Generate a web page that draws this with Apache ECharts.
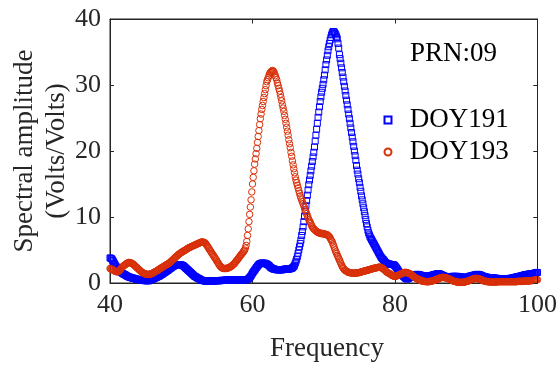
<!DOCTYPE html>
<html>
<head>
<meta charset="utf-8">
<script src="https://cdn.jsdelivr.net/npm/echarts@6/dist/echarts.min.js"></script>
<style>html,body{margin:0;padding:0;background:#fff;}#c{width:557px;height:367px;}</style>
</head>
<body>
<div id="c"></div>
<script>
// Frequency axis sampling (start, step) and tick values
var freqStart = 40;
var freqStep = 0.1;
var xTicks = [40, 60, 80, 100];
var yTicks = [0, 10, 20, 30, 40];
var seriesNames = ['DOY191', 'DOY193'];
var annotation = 'PRN:09';

// DOY191 spectral amplitude, 40.0 .. 100.0 step 0.1
var doy191 = [
3.8,3.75,3.7,3.6,3.4,3.2,3.0,2.8,2.6,2.45,
2.3,2.2,2.05,1.95,1.85,1.7,1.6,1.5,1.45,1.35,
1.3,1.25,1.2,1.1,1.05,1.0,0.95,0.9,0.85,0.85,
0.8,0.75,0.75,0.7,0.7,0.65,0.6,0.6,0.55,0.55,
0.5,0.5,0.5,0.45,0.45,0.4,0.4,0.4,0.4,0.35,
0.35,0.35,0.35,0.35,0.35,0.35,0.4,0.45,0.5,0.55,
0.6,0.65,0.7,0.75,0.8,0.85,0.9,0.95,1.0,1.05,
1.1,1.2,1.25,1.3,1.4,1.5,1.55,1.6,1.7,1.75,
1.85,1.9,2.0,2.1,2.15,2.25,2.3,2.4,2.5,2.55,
2.6,2.65,2.7,2.75,2.8,2.8,2.8,2.8,2.8,2.75,
2.75,2.7,2.65,2.6,2.5,2.4,2.3,2.2,2.1,2.0,
1.9,1.8,1.7,1.6,1.5,1.4,1.3,1.2,1.1,1.0,
0.95,0.9,0.8,0.75,0.7,0.65,0.6,0.5,0.45,0.4,
0.4,0.35,0.35,0.3,0.3,0.3,0.3,0.3,0.3,0.3,
0.3,0.3,0.3,0.3,0.3,0.3,0.3,0.3,0.35,0.35,
0.35,0.35,0.35,0.35,0.35,0.35,0.4,0.4,0.4,0.4,
0.4,0.4,0.45,0.45,0.45,0.45,0.45,0.5,0.5,0.5,
0.5,0.5,0.5,0.5,0.5,0.5,0.5,0.5,0.5,0.5,
0.5,0.5,0.5,0.5,0.45,0.45,0.45,0.45,0.5,0.5,
0.5,0.5,0.5,0.55,0.6,0.7,0.8,0.95,1.1,1.3,
1.5,1.65,1.8,1.95,2.1,2.3,2.4,2.55,2.7,2.8,
2.9,2.95,3.0,3.0,3.0,3.0,3.0,3.0,2.95,2.9,
2.9,2.8,2.75,2.65,2.55,2.4,2.35,2.25,2.2,2.15,
2.1,2.1,2.05,2.05,2.0,2.0,2.0,2.0,2.0,2.0,
2.0,2.0,2.0,2.05,2.05,2.1,2.1,2.1,2.1,2.1,
2.1,2.1,2.15,2.15,2.2,2.2,2.3,2.4,2.5,2.7,
3.0,3.3,3.6,4.0,4.5,5.0,5.5,6.0,6.5,7.2,
7.8,8.5,9.3,10.1,10.9,11.7,12.5,13.3,14.1,14.9,
15.6,16.3,17.0,17.7,18.4,19.1,19.8,20.6,21.5,22.4,
23.3,24.2,25.1,25.9,26.7,27.5,28.2,28.9,29.5,30.1,
30.8,31.5,32.3,33.1,33.8,34.5,35.2,35.8,36.3,36.8,
37.2,37.6,37.9,38.1,38.1,38.0,37.8,37.6,37.3,37.0,
36.3,35.6,34.6,34.0,33.3,32.6,31.9,31.2,30.5,29.8,
29.1,28.4,27.7,27.0,26.3,25.6,24.9,24.2,23.5,22.8,
22.1,21.4,20.7,20.0,19.3,18.6,17.8,17.1,16.5,15.8,
15.2,14.5,13.9,13.2,12.6,12.0,11.4,10.8,10.2,9.6,
9.0,8.5,8.0,7.6,7.3,7.0,6.8,6.6,6.4,6.2,
6.0,5.8,5.6,5.4,5.2,5.0,4.8,4.6,4.4,4.2,
4.0,3.85,3.7,3.6,3.5,3.35,3.2,3.1,3.0,2.95,
2.9,2.9,2.85,2.85,2.8,2.8,2.8,2.8,2.75,2.7,
2.6,2.45,2.3,2.15,2.0,1.8,1.65,1.5,1.4,1.3,
1.2,1.1,1.0,0.9,0.8,0.7,0.65,0.6,0.65,0.7,
0.8,0.85,0.9,0.95,1.0,1.1,1.15,1.2,1.25,1.25,
1.3,1.3,1.3,1.25,1.25,1.2,1.2,1.15,1.1,1.1,
1.05,1.05,1.0,1.0,1.0,1.0,1.0,1.05,1.05,1.1,
1.1,1.15,1.15,1.2,1.25,1.25,1.3,1.3,1.35,1.35,
1.4,1.4,1.4,1.35,1.3,1.25,1.2,1.15,1.1,1.05,
1.0,1.0,0.95,0.95,0.9,0.9,0.9,0.9,0.95,0.95,
1.0,1.0,1.0,1.0,1.0,1.0,1.0,1.0,1.0,0.95,
0.95,0.95,0.9,0.9,0.9,0.85,0.85,0.85,0.8,0.8,
0.85,0.85,0.9,0.95,1.0,1.0,1.05,1.1,1.1,1.15,
1.15,1.2,1.2,1.25,1.25,1.3,1.3,1.3,1.25,1.25,
1.2,1.15,1.1,1.05,1.0,1.0,0.95,0.9,0.9,0.85,
0.85,0.85,0.8,0.8,0.8,0.8,0.8,0.75,0.75,0.75,
0.75,0.7,0.7,0.7,0.7,0.65,0.65,0.65,0.65,0.65,
0.6,0.6,0.6,0.6,0.6,0.6,0.6,0.65,0.65,0.65,
0.65,0.7,0.7,0.7,0.75,0.75,0.8,0.8,0.85,0.85,
0.9,0.9,0.95,0.95,1.0,1.0,1.05,1.05,1.1,1.15,
1.15,1.2,1.2,1.25,1.25,1.3,1.3,1.3,1.35,1.35,
1.35,1.4,1.4,1.4,1.45,1.45,1.5,1.5,1.55,1.6,
1.6
];

// DOY193 spectral amplitude, 40.0 .. 100.0 step 0.1
var doy193 = [
2.2,2.15,2.1,2.05,2.0,1.9,1.85,1.8,1.75,1.7,
1.7,1.7,1.75,1.85,2.0,2.1,2.25,2.4,2.5,2.6,
2.65,2.75,2.85,2.9,3.0,3.05,3.1,3.1,3.1,3.05,
3.0,2.95,2.9,2.8,2.7,2.6,2.5,2.4,2.3,2.2,
2.1,2.0,1.9,1.8,1.7,1.6,1.55,1.5,1.45,1.4,
1.35,1.35,1.3,1.3,1.3,1.3,1.35,1.35,1.4,1.45,
1.5,1.55,1.6,1.7,1.75,1.8,1.85,1.9,2.0,2.1,
2.15,2.2,2.3,2.35,2.4,2.5,2.55,2.6,2.7,2.75,
2.8,2.85,2.95,3.0,3.1,3.2,3.3,3.4,3.5,3.6,
3.7,3.8,3.9,4.0,4.1,4.2,4.3,4.4,4.45,4.55,
4.6,4.7,4.75,4.8,4.9,4.95,5.0,5.1,5.15,5.2,
5.3,5.35,5.4,5.45,5.5,5.55,5.6,5.65,5.7,5.75,
5.8,5.85,5.9,5.95,6.0,6.05,6.1,6.15,6.2,6.2,
6.2,6.2,6.15,6.1,6.0,5.85,5.7,5.55,5.35,5.2,
5.0,4.85,4.7,4.5,4.35,4.2,4.0,3.85,3.7,3.5,
3.35,3.15,3.0,2.8,2.65,2.5,2.4,2.3,2.25,2.2,
2.2,2.2,2.2,2.2,2.2,2.25,2.3,2.35,2.4,2.45,
2.5,2.6,2.7,2.8,2.9,3.0,3.15,3.3,3.45,3.55,
3.7,3.85,4.0,4.15,4.3,4.4,4.55,4.7,4.85,5.0,
5.3,5.7,6.3,7.2,8.2,9.3,10.4,11.5,12.6,13.8,
15.0,16.0,17.0,18.0,18.8,19.6,20.4,21.3,22.2,23.1,
24.0,24.9,25.6,26.3,26.9,27.5,28.1,28.7,29.3,29.9,
30.5,30.8,31.1,31.4,31.7,31.9,32.0,32.1,32.2,32.1,
32.0,31.7,31.4,31.1,30.8,30.3,29.9,29.5,29.1,28.6,
28.1,27.6,27.0,26.5,26.0,25.4,24.8,24.2,23.6,23.0,
22.4,21.7,21.1,20.5,19.8,19.2,18.5,17.9,17.3,16.7,
16.1,15.6,15.2,14.8,14.4,14.0,13.6,13.2,12.9,12.6,
12.3,12.0,11.7,11.4,11.1,10.8,10.5,10.2,9.9,9.6,
9.4,9.2,9.0,8.7,8.5,8.3,8.2,8.1,8.0,7.9,
7.8,7.7,7.7,7.6,7.6,7.5,7.5,7.5,7.5,7.5,
7.4,7.4,7.4,7.4,7.3,7.3,7.2,7.1,7.0,6.8,
6.6,6.4,6.2,5.9,5.6,5.3,5.0,4.7,4.5,4.2,
4.0,3.7,3.5,3.2,3.0,2.7,2.5,2.3,2.2,2.0,
1.9,1.85,1.8,1.7,1.65,1.6,1.6,1.55,1.55,1.5,
1.5,1.5,1.5,1.5,1.5,1.5,1.5,1.55,1.55,1.55,
1.6,1.6,1.65,1.7,1.7,1.75,1.8,1.8,1.85,1.85,
1.9,1.95,1.95,2.0,2.0,2.05,2.1,2.1,2.15,2.2,
2.2,2.25,2.25,2.3,2.3,2.35,2.35,2.4,2.4,2.4,
2.35,2.3,2.25,2.2,2.1,2.0,1.9,1.8,1.7,1.6,
1.55,1.5,1.45,1.4,1.3,1.2,1.15,1.1,1.05,1.0,
1.0,1.0,1.05,1.1,1.15,1.2,1.25,1.3,1.35,1.4,
1.45,1.5,1.55,1.6,1.6,1.6,1.6,1.55,1.5,1.5,
1.45,1.4,1.35,1.25,1.15,1.05,1.0,0.9,0.85,0.75,
0.7,0.65,0.6,0.55,0.5,0.45,0.4,0.35,0.3,0.3,
0.25,0.25,0.25,0.2,0.2,0.2,0.2,0.2,0.2,0.25,
0.25,0.3,0.3,0.35,0.35,0.4,0.45,0.5,0.55,0.6,
0.6,0.65,0.7,0.75,0.8,0.8,0.85,0.85,0.85,0.8,
0.8,0.8,0.75,0.75,0.7,0.65,0.6,0.55,0.5,0.45,
0.4,0.35,0.3,0.25,0.25,0.2,0.2,0.15,0.15,0.1,
0.1,0.1,0.1,0.1,0.1,0.1,0.1,0.15,0.15,0.2,
0.2,0.25,0.3,0.3,0.35,0.4,0.45,0.5,0.55,0.6,
0.6,0.65,0.65,0.7,0.7,0.7,0.65,0.65,0.6,0.55,
0.55,0.5,0.45,0.4,0.35,0.3,0.3,0.25,0.25,0.2,
0.2,0.2,0.2,0.15,0.15,0.15,0.15,0.15,0.15,0.15,
0.15,0.15,0.15,0.15,0.2,0.2,0.2,0.2,0.2,0.2,
0.2,0.2,0.2,0.2,0.2,0.2,0.2,0.2,0.2,0.2,
0.2,0.2,0.2,0.2,0.2,0.2,0.2,0.2,0.2,0.2,
0.2,0.2,0.25,0.25,0.25,0.25,0.25,0.25,0.25,0.25,
0.25,0.3,0.3,0.3,0.3,0.3,0.3,0.3,0.3,0.35,
0.35,0.35,0.35,0.4,0.4,0.4,0.45,0.45,0.45,0.5,
0.5
];

function toPairs(vals) {
  return vals.map(function (v, i) {
    return [Math.round((freqStart + i * freqStep) * 10) / 10, v];
  });
}

var FONT = '"Liberation Serif", "Times New Roman", serif';
var AXIS_COLOR = '#262626';
var BLUE = '#0000FF';
var RED = '#D92F08';
var SQUARE = 'path://M0 0L10 0L10 10L0 10Z';

var gridL = 110, gridT = 19, gridW = 427.5, gridH = 264;
var TICK = 4;

// frame (top/right edges + inward ticks) from layout constants
var xMin = xTicks[0], xMax = xTicks[xTicks.length - 1];
var yMin = yTicks[0], yMax = yTicks[yTicks.length - 1];
function crisp(v) { return Math.round(v - 0.5) + 0.5; }
var topY = crisp(gridT), rightX = crisp(gridL + gridW), botY = gridT + gridH;
var frameEls = [
  {type: 'line', silent: true, z: 100, shape: {x1: gridL, y1: topY, x2: rightX, y2: topY},
   style: {stroke: AXIS_COLOR, lineWidth: 1}},
  {type: 'line', silent: true, z: 100, shape: {x1: rightX, y1: topY, x2: rightX, y2: botY},
   style: {stroke: AXIS_COLOR, lineWidth: 1}}
];
xTicks.forEach(function (t) {
  var px = crisp(gridL + (t - xMin) / (xMax - xMin) * gridW);
  frameEls.push({type: 'line', silent: true, z: 100, shape: {x1: px, y1: topY, x2: px, y2: topY + TICK},
                 style: {stroke: AXIS_COLOR, lineWidth: 1}});
});
yTicks.forEach(function (t) {
  var py = crisp(botY - (t - yMin) / (yMax - yMin) * gridH);
  frameEls.push({type: 'line', silent: true, z: 100, shape: {x1: rightX - TICK, y1: py, x2: rightX, y2: py},
                 style: {stroke: AXIS_COLOR, lineWidth: 1}});
});

var textGraphics = [
  {
    type: 'text', left: 410, top: 40,
    style: {text: annotation, font: '27px ' + FONT, fill: '#000'}
  },
  {
    type: 'text', x: 327, y: 349,
    style: {text: 'Frequency', font: '27px ' + FONT, fill: AXIS_COLOR, textAlign: 'center', textVerticalAlign: 'middle'}
  },
  {
    type: 'text', x: 41, y: 151, rotation: Math.PI / 2,
    style: {text: 'Spectral amplitude\n(Volts/Volts)', font: '27px ' + FONT, fill: AXIS_COLOR,
            textAlign: 'center', textVerticalAlign: 'middle', lineHeight: 32}
  }
];

function axisBase() {
  return {
    axisLine: {show: true, onZero: false, lineStyle: {color: AXIS_COLOR, width: 1}},
    axisTick: {show: true, inside: true, length: TICK, lineStyle: {color: AXIS_COLOR, width: 1}},
    splitLine: {show: false}
  };
}

var chart = echarts.init(document.getElementById('c'), null, {renderer: 'canvas'});

var option = {
  animation: false,
  backgroundColor: '#ffffff',
  grid: {left: gridL, top: gridT, width: gridW, height: gridH, containLabel: false,
         outerBoundsMode: 'none', show: true, borderColor: AXIS_COLOR, borderWidth: 1,
         backgroundColor: 'rgba(0,0,0,0)'},
  xAxis: [
    Object.assign(axisBase(), {
      type: 'value', min: xMin, max: xMax, interval: 20, position: 'bottom',
      axisLabel: {show: true, margin: 9, color: AXIS_COLOR, fontFamily: FONT, fontSize: 26}
    }),
    Object.assign(axisBase(), {
      type: 'value', min: xMin, max: xMax, interval: 20, position: 'top',
      axisLabel: {show: true, formatter: function () { return ''; }}
    })
  ],
  yAxis: [
    Object.assign(axisBase(), {
      type: 'value', min: yMin, max: yMax, interval: 10, position: 'left',
      axisLabel: {show: true, margin: 9, color: AXIS_COLOR, fontFamily: FONT, fontSize: 26}
    }),
    Object.assign(axisBase(), {
      type: 'value', min: yMin, max: yMax, interval: 10, position: 'right',
      axisLabel: {show: true, formatter: function () { return ''; }}
    })
  ],
  legend: {
    orient: 'vertical',
    left: 383.5,
    top: 106,
    itemWidth: 33.4,
    itemHeight: 7,
    itemGap: 4,
    symbolKeepAspect: true,
    textStyle: {fontFamily: FONT, fontSize: 27, color: '#000', lineHeight: 28, padding: 0},
    padding: 0,
    data: [
      {name: seriesNames[0], icon: SQUARE},
      {name: seriesNames[1], icon: 'circle'}
    ]
  },
  graphic: {elements: textGraphics.concat(frameEls)},
  series: [
    {
      name: seriesNames[0], type: 'scatter', xAxisIndex: 0, yAxisIndex: 0,
      symbol: SQUARE, symbolSize: 6,
      itemStyle: {color: 'rgba(255,255,255,0)', borderColor: BLUE, borderWidth: 1, opacity: 1},
      emphasis: {disabled: true},
      large: false,
      data: toPairs(doy191)
    },
    {
      // the top/right axes have the same extents as the bottom/left ones
      name: seriesNames[1], type: 'scatter', xAxisIndex: 1, yAxisIndex: 1,
      symbol: 'circle', symbolSize: 6.5,
      itemStyle: {color: 'rgba(255,255,255,0)', borderColor: RED, borderWidth: 1, opacity: 1},
      emphasis: {disabled: true},
      large: false,
      data: toPairs(doy193)
    }
  ]
};

chart.setOption(option);
</script>
</body>
</html>
